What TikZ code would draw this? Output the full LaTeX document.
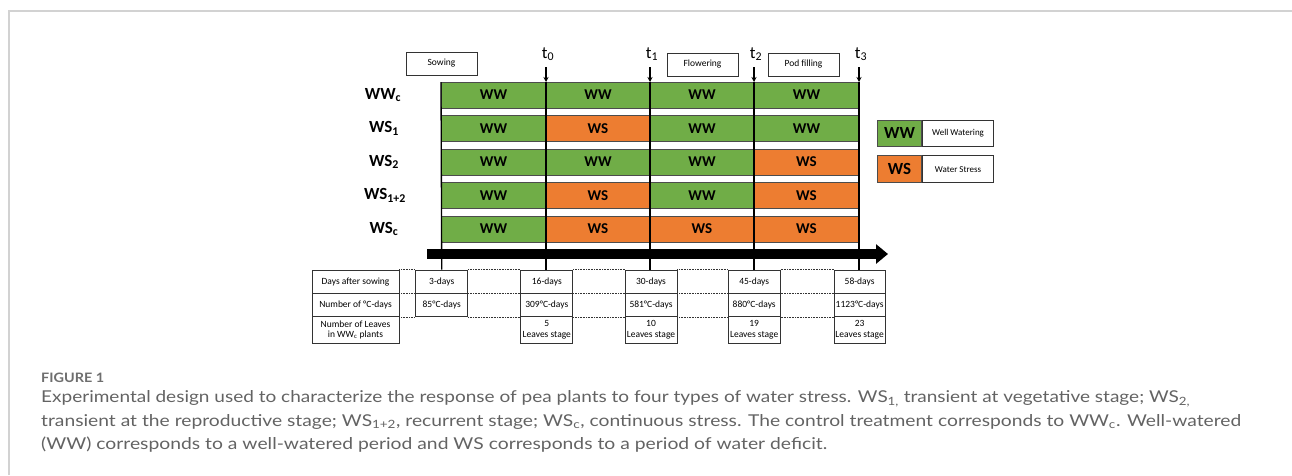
\documentclass[tikz,border=0pt]{standalone}
\usepackage{fontspec}
\usepackage{graphicx}
\setmainfont{Carlito}
\newfontfamily\capfont{Lato}
\usetikzlibrary{arrows.meta}
\definecolor{wwg}{HTML}{70AD47}
\definecolor{wso}{HTML}{ED7D31}
\definecolor{capgray}{HTML}{636363}
\definecolor{figgray}{HTML}{6E6E6E}
\definecolor{framegray}{HTML}{D2D2D2}
\newcommand\mkseg[6]{\node[#2, minimum width={#4-#3}] (#1) at ({(#3+#4)/2},{#5+13}) {#6};}
\newcommand\fitline[2]{\resizebox{#1}{\height}{#2}}
\begin{document}
\begin{tikzpicture}[x=1pt,y=-1pt,
  seg/.style={draw=black!70, line width=0.8pt, minimum height=26pt, inner sep=0pt, font=\bfseries\fontsize{15}{15}\selectfont},
  wwseg/.style={seg, fill=wwg},
  wsseg/.style={seg, fill=wso},
  rowlab/.style={font=\bfseries\fontsize{17}{17}\selectfont, inner sep=0pt},
  tbox/.style={draw=black!80, line width=0.8pt, fill=white, inner sep=0pt, font=\fontsize{9.5}{10.5}\selectfont, align=center},
  stagebox/.style={draw=black!80, line width=0.8pt, fill=white, inner sep=0pt, minimum height=23pt, font=\fontsize{9.5}{10}\selectfont},
  tline/.style={line width=1.3pt, black},
  dots/.style={line width=1pt, dash pattern=on 0.8pt off 0.8pt, black!80},
  tlab/.style={font=\fontsize{17}{17}\selectfont, inner sep=0pt},
  captxt/.style={anchor=west, inner sep=0pt, text=capgray, font=\capfont\fontsize{16.3}{18}\selectfont},
]
\useasboundingbox (0,0) rectangle (1292,475);
% frame
\coordinate (fa) at (9,475);
\coordinate (fb) at (9,11);
\coordinate (fc) at (1292,11);
\draw[framegray, line width=1.8pt] (fa) -- (fb) -- (fc);

% bars
\mkseg{a0}{wwseg}{441}{546}{82}{WW}
\mkseg{a1}{wwseg}{546}{650}{82}{WW}
\mkseg{a2}{wwseg}{650}{754}{82}{WW}
\mkseg{a3}{wwseg}{754}{859}{82}{WW}

\mkseg{b0}{wwseg}{441}{546}{115.5}{WW}
\mkseg{b1}{wsseg}{546}{650}{115.5}{WS}
\mkseg{b2}{wwseg}{650}{754}{115.5}{WW}
\mkseg{b3}{wwseg}{754}{859}{115.5}{WW}

\mkseg{c0}{wwseg}{441}{546}{149}{WW}
\mkseg{c1}{wwseg}{546}{650}{149}{WW}
\mkseg{c2}{wwseg}{650}{754}{149}{WW}
\mkseg{c3}{wsseg}{754}{859}{149}{WS}

\mkseg{d0}{wwseg}{441}{546}{182.5}{WW}
\mkseg{d1}{wsseg}{546}{650}{182.5}{WS}
\mkseg{d2}{wwseg}{650}{754}{182.5}{WW}
\mkseg{d3}{wsseg}{754}{859}{182.5}{WS}

\mkseg{e0}{wwseg}{441}{546}{216}{WW}
\mkseg{e1}{wsseg}{546}{650}{216}{WS}
\mkseg{e2}{wsseg}{650}{754}{216}{WS}
\mkseg{e3}{wsseg}{754}{859}{216}{WS}

% row labels
\node[rowlab] (la) at (383,95) {WW\textsubscript{c}};
\node[rowlab] (lb) at (384,128.5) {WS\textsubscript{1}};
\node[rowlab] (lc) at (384,162) {WS\textsubscript{2}};
\node[rowlab] (ld) at (385,195.5) {WS\textsubscript{1+2}};
\node[rowlab] (le) at (384,229) {WS\textsubscript{c}};

% stage boxes
\node[stagebox, minimum width=71pt] (sow) at (441.5,63.5) {Sowing};
\node[stagebox, minimum width=71pt] (flo) at (702.5,64.5) {Flowering};
\node[stagebox, minimum width=71pt] (pod) at (803.5,64.5) {Pod filling};

% time labels
\node[tlab] (T0) at (548,54) {t\textsubscript{0}};
\node[tlab] (T1) at (652,54) {t\textsubscript{1}};
\node[tlab] (T2) at (756,54) {t\textsubscript{2}};
\node[tlab] (T3) at (861,54) {t\textsubscript{3}};

% table
\node[tbox, minimum width=87pt, minimum height=23.3pt] (r1) at (355.5,281.65) {Days after sowing};
\node[tbox, minimum width=87pt, minimum height=23.4pt] (r2) at (355.5,305) {Number of °C-days};
\node[tbox, minimum width=87pt, minimum height=26.3pt] (r3) at (355.5,329.85) {Number of Leaves\\in WW\textsubscript{c} plants};

\node[tbox, minimum width=52pt, minimum height=23.3pt] (p0a) at (441.7,281.65) {3-days};
\node[tbox, minimum width=52pt, minimum height=23.4pt] (p0b) at (441.7,305) {85°C-days};

\node[tbox, minimum width=52pt, minimum height=23.3pt] (p1a) at (546.8,281.65) {16-days};
\node[tbox, minimum width=52pt, minimum height=23.4pt] (p1b) at (546.8,305) {309°C-days};
\node[tbox, minimum width=52pt, minimum height=26.3pt] (p1c) at (546.8,329.85) {5\\Leaves stage};

\node[tbox, minimum width=52pt, minimum height=23.3pt] (p2a) at (651,281.65) {30-days};
\node[tbox, minimum width=52pt, minimum height=23.4pt] (p2b) at (651,305) {581°C-days};
\node[tbox, minimum width=52pt, minimum height=26.3pt] (p2c) at (651,329.85) {10\\Leaves stage};

\node[tbox, minimum width=52pt, minimum height=23.3pt] (p3a) at (754.2,281.65) {45-days};
\node[tbox, minimum width=52pt, minimum height=23.4pt] (p3b) at (754.2,305) {880°C-days};
\node[tbox, minimum width=52pt, minimum height=26.3pt] (p3c) at (754.2,329.85) {19\\Leaves stage};

\node[tbox, minimum width=51pt, minimum height=23.3pt] (p4a) at (859.6,281.65) {58-days};
\node[tbox, minimum width=51pt, minimum height=23.4pt] (p4b) at (859.6,305) {1123°C-days};
\node[tbox, minimum width=51pt, minimum height=26.3pt] (p4c) at (859.6,329.85) {23\\Leaves stage};

% dotted links
\draw[dots] (r1.north east) -- (p0a.north west);
\draw[dots] (r1.south east) -- (p0a.south west);
\draw[dots] (r2.south east) -- (p0b.south west);
\foreach \u/\v in {p0/p1,p1/p2,p2/p3,p3/p4}{
  \draw[dots] (\u a.north east) -- (\v a.north west);
  \draw[dots] (\u a.south east) -- (\v a.south west);
  \draw[dots] (\u b.south east) -- (\v b.south west);
}

% vertical time lines
\coordinate (s0) at (441,82);
\draw[tline] (s0) -- (p0a.north);
\foreach \n/\x in {0/546,1/650,2/754,3/859}{
  \coordinate (tt\n) at (\x,67);
  \coordinate (tb\n) at (\x,82);
}
\draw[tline, -{Stealth[length=5pt,width=5pt]}] (tt0) -- (tb0);
\draw[tline, -{Stealth[length=5pt,width=5pt]}] (tt1) -- (tb1);
\draw[tline, -{Stealth[length=5pt,width=5pt]}] (tt2) -- (tb2);
\draw[tline, -{Stealth[length=5pt,width=5pt]}] (tt3) -- (tb3);
\draw[tline] (tb0) -- (p1a.north -| tb0);
\draw[tline] (tb1) -- (p2a.north -| tb1);
\draw[tline] (tb2) -- (p3a.north -| tb2);
\draw[tline] (tb3) -- (p4a.north -| tb3);

% main arrow
\coordinate (ax0) at (427,254);
\coordinate (ax1) at (888,254);
\draw[line width=9.5pt, -{Triangle[length=12pt,width=19pt]}] (ax0) -- (ax1);

% legend
\node[seg, fill=wwg, minimum width=44.5pt, minimum height=26.7pt, font=\bfseries\fontsize{17}{17}\selectfont] (gww) at (899.5,133.3) {WW};
\node[tbox, minimum width=71pt, minimum height=26.7pt, anchor=west, font=\fontsize{9}{10}\selectfont] (gwwt) at (gww.east) {Well Watering};
\node[seg, fill=wso, minimum width=44.5pt, minimum height=27pt, font=\bfseries\fontsize{17}{17}\selectfont] (gws) at (899.5,169.3) {WS};
\node[tbox, minimum width=71pt, minimum height=27pt, anchor=west, font=\fontsize{9}{10}\selectfont] (gwst) at (gws.east) {Water Stress};

% caption
\node[anchor=west, inner sep=0pt, text=figgray, font=\capfont\bfseries\fontsize{13}{14}\selectfont] (fig) at (41,378) {\fitline{63pt}{FIGURE 1}};
\node[captxt] (c1) at (41,398.5) {\fitline{1149pt}{Experimental design used to characterize the response of pea plants to four types of water stress. WS\textsubscript{1,} transient at vegetative stage; WS\textsubscript{2,}}};
\node[captxt] (c2) at (41,421.5) {\fitline{1200pt}{transient at the reproductive stage; WS\textsubscript{1+2}, recurrent stage; WS\textsubscript{c}, continuous stress. The control treatment corresponds to WW\textsubscript{c}. Well-watered}};
\node[captxt] (c3) at (41,444.5) {\fitline{786pt}{(WW) corresponds to a well-watered period and WS corresponds to a period of water deficit.}};
\end{tikzpicture}
\end{document}
